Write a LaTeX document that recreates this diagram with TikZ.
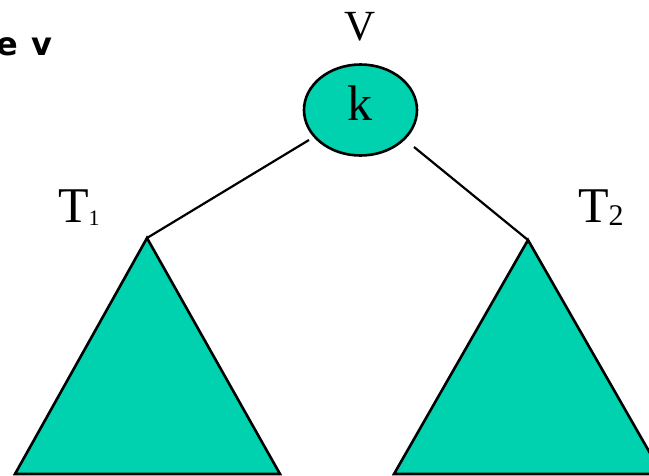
\documentclass[tikz,border=0pt]{standalone}
\usepackage{fontspec}
\setmainfont{Liberation Serif}
\newfontfamily\labfont{DejaVu Sans}
\usetikzlibrary{shapes.geometric}
\definecolor{tealfill}{RGB}{0,209,174}
\tikzset{
  treefill/.style={fill=tealfill, draw=black, line width=2.6pt, line join=miter},
  edge/.style={draw=black, line width=2.2pt},
  txt/.style={inner sep=0pt, outer sep=0pt}
}
\begin{document}
\begin{tikzpicture}[x=1pt,y=-1pt]
\useasboundingbox (0,0) rectangle (649,475);
\clip (0,0) rectangle (649,475);
% label cut at the left edge
\node[txt, anchor=base west] (lab) at (-4,55) {\labfont\bfseries\fontsize{32}{32}\selectfont e\hspace{14pt}v};
% root node
\node[ellipse, treefill, minimum width=113pt, minimum height=91pt, inner sep=0pt] (v) at (360.5,110) {};
\node[txt, anchor=base] (k) at (360,120) {\fontsize{50}{50}\selectfont k};
\node[txt, anchor=base] (V) at (360,40) {\fontsize{43}{43}\selectfont V};
% subtrees
\coordinate (a1) at (147,238);
\coordinate (a2) at (528,240);
\coordinate (e1) at (309,140);
\coordinate (e2) at (414,147);
\draw[treefill] (a1) -- (15,474) -- (280,474) -- cycle;
\draw[treefill] (a2) -- (394,474) -- (662,474) -- cycle;
\draw[edge] (e1) -- (a1);
\draw[edge] (e2) -- (a2);
% labels
\node[txt, anchor=base west] (T1) at (58,222) {\fontsize{50}{50}\selectfont T\raisebox{-3pt}{\fontsize{22}{22}\selectfont 1}};
\node[txt, anchor=base west] (T2) at (578,222) {\fontsize{50}{50}\selectfont T\raisebox{-3pt}{\fontsize{30}{30}\selectfont 2}};
\end{tikzpicture}
\end{document}
